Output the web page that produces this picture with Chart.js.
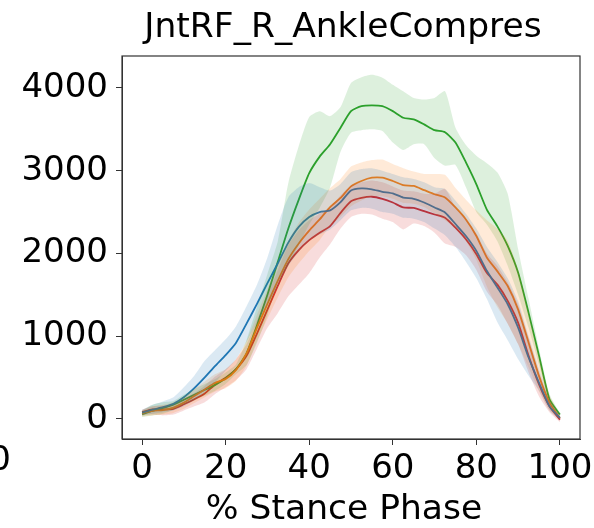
<!DOCTYPE html>
<html>
<head>
<meta charset="utf-8">
<script src="https://cdn.jsdelivr.net/npm/chart.js@4.4.1/dist/chart.umd.min.js"></script>
<style>
  html, body { margin: 0; padding: 0; background: #fff; }
  canvas { display: block; }
</style>
</head>
<body>
<canvas id="chart" width="594" height="528"></canvas>
<script>
// % stance phase, sampled every 2.5
const stance = [0, 2.5, 5, 7.5, 10, 12.5, 15, 17.5, 20, 22.5, 25, 27.5, 30, 32.5, 35, 37.5, 40,
  42.5, 45, 47.5, 50, 52.5, 55, 57.5, 60, 62.5, 65, 67.5, 70, 72.5, 75, 77.5, 80, 82.5, 85,
  87.5, 90, 92.5, 95, 97.5, 100];

const xTicks = [0, 20, 40, 60, 80, 100];
const yTicks = [0, 1000, 2000, 3000, 4000];

const chartTitle = 'JntRF_R_AnkleCompres';
const xLabel = '% Stance Phase';

// mean curves
const blueMean = [73, 110, 140, 180, 260, 370, 500, 640, 770, 920, 1150, 1390, 1640, 1880, 2130,
  2320, 2440, 2500, 2520, 2620, 2760, 2785, 2775, 2745, 2725, 2675, 2660, 2615, 2555, 2495,
  2355, 2210, 2030, 1790, 1590, 1385, 1100, 740, 435, 150, 10];
const orangeMean = [65, 95, 105, 135, 195, 275, 355, 435, 480, 590, 790, 1100, 1390, 1670, 1930,
  2120, 2275, 2410, 2560, 2670, 2810, 2875, 2915, 2915, 2875, 2825, 2815, 2765, 2715, 2675,
  2555, 2410, 2210, 1950, 1785, 1605, 1320, 920, 515, 195, 10];
const greenMean = [55, 95, 130, 170, 230, 290, 350, 410, 490, 600, 790, 1130, 1500, 1900, 2300,
  2650, 2970, 3170, 3320, 3520, 3720, 3780, 3790, 3780, 3720, 3640, 3620, 3560, 3490, 3465,
  3340, 3100, 2835, 2530, 2330, 2090, 1765, 1280, 760, 235, 50];
const redMean = [80, 113, 113, 120, 175, 235, 305, 415, 495, 600, 760, 1030, 1320, 1610, 1880,
  2040, 2160, 2250, 2330, 2490, 2630, 2670, 2685, 2660, 2615, 2555, 2550, 2510, 2470, 2430,
  2310, 2170, 1990, 1765, 1625, 1425, 1160, 760, 415, 150, -10];

// spread bands (upper / lower)
const blueUpper = [110, 170, 210, 260, 380, 520, 700, 830, 960, 1120, 1360, 1620, 1950, 2350, 2680,
  2800, 2850, 2800, 2760, 2840, 2980, 3020, 3030, 3000, 2960, 2920, 2900, 2860, 2800, 2780,
  2640, 2480, 2300, 2080, 1900, 1700, 1420, 1000, 600, 230, 40];
const blueLower = [40, 60, 80, 100, 150, 230, 320, 440, 580, 720, 930, 1160, 1380, 1600, 1850,
  2020, 2150, 2230, 2290, 2400, 2520, 2550, 2540, 2500, 2480, 2430, 2420, 2380, 2300, 2220,
  2080, 1900, 1700, 1450, 1170, 950, 720, 520, 340, 100, -20];
const orangeUpper = [100, 150, 170, 200, 270, 360, 450, 540, 600, 720, 940, 1260, 1570, 1870, 2150,
  2370, 2530, 2660, 2790, 2900, 3050, 3100, 3130, 3135, 3080, 3030, 2990, 2960, 2960, 2950,
  2790, 2650, 2520, 2400, 2300, 2150, 1800, 1280, 760, 280, 40];
const orangeLower = [30, 40, 50, 70, 120, 190, 260, 330, 370, 460, 640, 940, 1210, 1470, 1710,
  1880, 2030, 2160, 2330, 2440, 2570, 2640, 2690, 2690, 2660, 2610, 2600, 2560, 2480, 2400,
  2300, 2150, 1920, 1600, 1350, 1150, 900, 620, 330, 100, -10];
const greenUpper = [100, 170, 200, 215, 290, 360, 420, 480, 560, 660, 950, 1350, 1750, 2150, 2850,
  3300, 3650, 3720, 3660, 3770, 4060, 4130, 4160, 4125, 4040, 3960, 3880, 3860, 3880, 3960,
  3520, 3310, 3180, 3090, 2980, 2720, 2050, 1450, 850, 300, 70];
const greenLower = [20, 40, 60, 110, 170, 220, 280, 340, 420, 540, 650, 920, 1250, 1650, 1850,
  2100, 2350, 2550, 2800, 3230, 3460, 3490, 3500, 3480, 3340, 3250, 3320, 3320, 3150, 3060,
  3070, 2800, 2500, 2350, 2150, 1850, 1500, 1100, 650, 180, 30];
const redUpper = [110, 150, 160, 170, 240, 310, 400, 510, 600, 720, 900, 1190, 1490, 1800, 2100,
  2280, 2400, 2480, 2560, 2700, 2820, 2860, 2880, 2860, 2810, 2760, 2750, 2720, 2720, 2780,
  2560, 2420, 2240, 2000, 1850, 1650, 1380, 980, 560, 220, 20];
const redLower = [40, 50, 40, 50, 100, 150, 200, 300, 380, 470, 600, 850, 1100, 1280, 1480,
  1620, 1760, 1950, 2110, 2300, 2440, 2480, 2470, 2420, 2380, 2290, 2360, 2330, 2250, 2120,
  2080, 1980, 1800, 1540, 1380, 1150, 900, 560, 270, 80, -40];

const FONT = 'DejaVu Sans';

function pts(arr) {
  return stance.map((x, i) => ({ x: x, y: arr[i] }));
}

function band(lower, upper, rgb) {
  return [
    { data: pts(lower), borderWidth: 0, pointRadius: 0, fill: false, tension: 0.2 },
    { data: pts(upper), borderWidth: 0, pointRadius: 0, fill: '-1', tension: 0.2,
      backgroundColor: `rgba(${rgb}, 0.16)` }
  ];
}

function meanLine(arr, color) {
  return { data: pts(arr), borderColor: color, borderWidth: 1.8, pointRadius: 0,
    fill: false, tension: 0.2 };
}

const datasets = [
  ...band(blueLower, blueUpper, '31, 119, 180'),
  ...band(orangeLower, orangeUpper, '255, 127, 14'),
  ...band(greenLower, greenUpper, '44, 160, 44'),
  ...band(redLower, redUpper, '214, 39, 40'),
  meanLine(blueMean, '#1f77b4'),
  meanLine(orangeMean, '#ff7f0e'),
  meanLine(greenMean, '#2ca02c'),
  meanLine(redMean, '#d62728')
];

// white background, axes box, titles, and the clipped tick label of the neighbouring panel
const framePlugin = {
  id: 'frame',
  beforeDraw(chart) {
    const ctx = chart.ctx;
    ctx.save();
    ctx.fillStyle = '#fff';
    ctx.fillRect(0, 0, chart.width, chart.height);
    ctx.restore();
  },
  afterDraw(chart) {
    const { ctx, chartArea: a } = chart;
    ctx.save();
    ctx.strokeStyle = '#333';
    ctx.lineWidth = 1.2;
    ctx.strokeRect(a.left, a.top, a.right - a.left, a.bottom - a.top);

    ctx.fillStyle = '#000';
    ctx.textAlign = 'center';
    ctx.textBaseline = 'alphabetic';
    ctx.font = `34.5px "${FONT}"`;
    ctx.fillText(chartTitle, 343, 37);
    ctx.fillText(xLabel, 344, 519);

    ctx.font = `34px "${FONT}"`;
    ctx.textAlign = 'right';
    ctx.textBaseline = 'middle';
    ctx.fillText('0', 11, 461);
    ctx.restore();
  }
};

new Chart(document.getElementById('chart').getContext('2d'), {
  type: 'line',
  data: { datasets: datasets },
  options: {
    responsive: false,
    animation: false,
    layout: { padding: { left: 0, right: 14, top: 56, bottom: 0 } },
    plugins: {
      legend: { display: false },
      tooltip: { enabled: false },
      title: { display: false }
    },
    scales: {
      x: {
        type: 'linear',
        min: -4.8,
        max: 104.8,
        afterBuildTicks: s => { s.ticks = xTicks.map(v => ({ value: v })); },
        afterFit: s => { s.height = 89; s.paddingLeft = 0; s.paddingRight = 0; },
        grid: { drawOnChartArea: false, drawTicks: true, tickLength: 6, color: '#333' },
        border: { display: true, color: '#333' },
        ticks: { color: '#000', padding: 4, maxRotation: 0,
          font: { family: FONT, size: 34 }, callback: v => String(v) }
      },
      y: {
        type: 'linear',
        min: -245,
        max: 4387,
        afterBuildTicks: s => { s.ticks = yTicks.map(v => ({ value: v })); },
        afterFit: s => { s.width = 122; },
        grid: { drawOnChartArea: false, drawTicks: true, tickLength: 6, color: '#333' },
        border: { display: true, color: '#333' },
        ticks: { color: '#000', padding: 8,
          font: { family: FONT, size: 34 }, callback: v => String(v) }
      }
    }
  },
  plugins: [framePlugin]
});
</script>
</body>
</html>
